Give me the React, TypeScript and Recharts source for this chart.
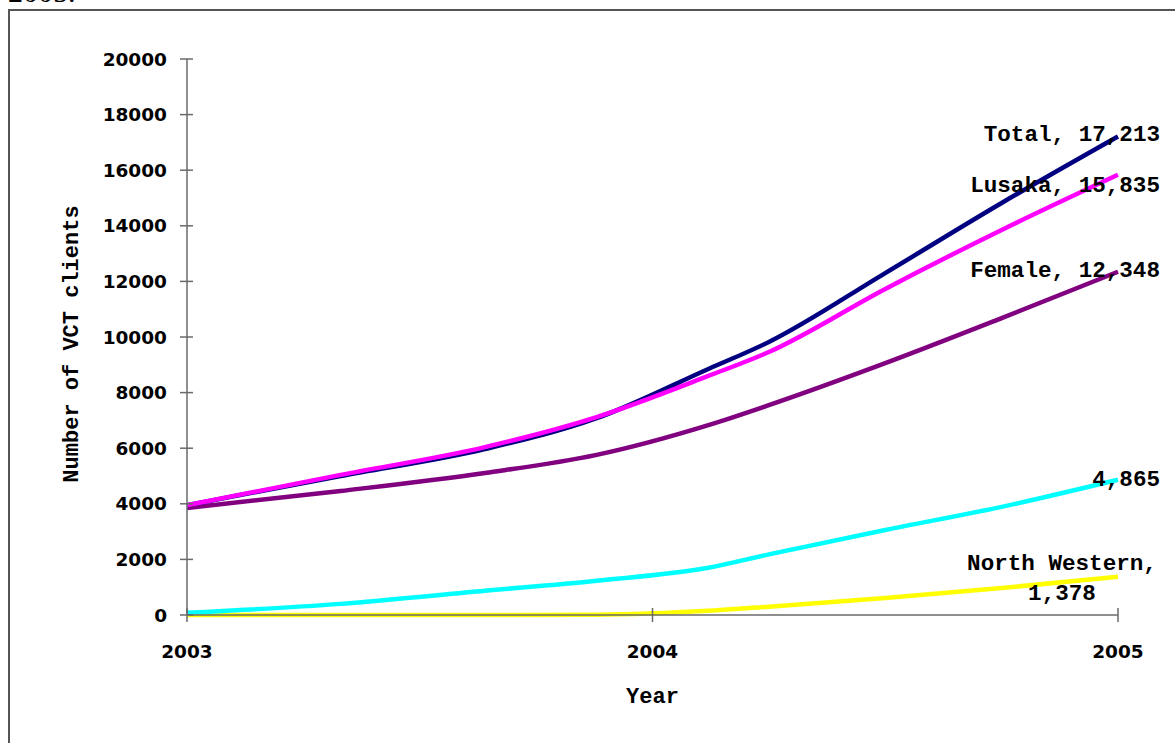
import React from "react";
import { LineChart, Line, XAxis, YAxis, Label, LabelList } from "recharts";

// ---- data ----
const years = [2003, 2003.33, 2003.64, 2003.88, 2004.12, 2004.25, 2004.5, 2004.75, 2005];
const totalValues = [3950, 5000, 5970, 7080, 8850, 9820, 12300, 14820, 17213];
const lusakaValues = [3950, 5040, 6040, 7120, 8600, 9460, 11730, 13850, 15835];
const femaleValues = [3850, 4460, 5110, 5760, 6830, 7550, 9060, 10680, 12348];
const otherValues = [80, 400, 870, 1235, 1700, 2180, 3060, 3890, 4865];
const northWesternValues = [0, 0, 0, 10, 150, 300, 610, 970, 1378];

const xTicks = [2003, 2004, 2005];
const yTicks = [0, 2000, 4000, 6000, 8000, 10000, 12000, 14000, 16000, 18000, 20000];

const seriesNames = {
  total: "Total",
  lusaka: "Lusaka",
  female: "Female",
  other: "",
  northWestern: "North Western",
};

const data = years.map((yr, i) => ({
  year: yr,
  total: totalValues[i],
  lusaka: lusakaValues[i],
  female: femaleValues[i],
  other: otherValues[i],
  northWestern: northWesternValues[i],
}));

const LAST = years.length - 1;
const MONO = "'Liberation Mono', 'Courier New', monospace";
const SANS = "'DejaVu Sans', Verdana, sans-serif";
const AXIS = "#6a6a6a";
const LW = 4.5;

const fmt = (v: number) => v.toLocaleString("en-US");

const YTick = (props: any) => {
  const { x, y, payload } = props;
  return (
    <g>
      <line x1={x + 13} x2={x + 26} y1={y} y2={y} stroke={AXIS} strokeWidth={1.5} />
      <text x={x} y={y} dy={6.5} textAnchor="end" fontFamily={SANS} fontWeight="bold" fontSize={18.5} fill="#000">
        {payload.value}
      </text>
    </g>
  );
};

const XTick = (props: any) => {
  const { x, y, payload } = props;
  return (
    <g>
      <line x1={x} x2={x} y1={y - 37} y2={y - 23} stroke={AXIS} strokeWidth={1.5} />
      <text x={x} y={y} dy={13} textAnchor="middle" fontFamily={SANS} fontWeight="bold" fontSize={18.5} fill="#000">
        {payload.value}
      </text>
    </g>
  );
};

const YLabel = (props: any) => {
  const vb = props.viewBox || { x: 0, y: 0, width: 0, height: 0 };
  const x = vb.x + 78;
  const y = vb.y + vb.height / 2 + 7;
  return (
    <text x={x} y={y} transform={`rotate(-90, ${x}, ${y})`} textAnchor="middle" fontFamily={MONO} fontWeight="bold" fontSize={22} fill="#000">
      Number of VCT clients
    </text>
  );
};

const XLabel = (props: any) => {
  const vb = props.viewBox || { x: 0, y: 0, width: 0, height: 0 };
  return (
    <text x={vb.x + vb.width / 2} y={vb.y + 88} textAnchor="middle" fontFamily={MONO} fontWeight="bold" fontSize={22} fill="#000">
      Year
    </text>
  );
};

const endLabel = (name: string, dx: number, dy: number) => (props: any) => {
  const { x, y, value, index } = props;
  if (index !== LAST) return null;
  const txt = name ? `${name}, ${fmt(value)}` : fmt(value);
  return (
    <text x={x + dx} y={y + dy} textAnchor="end" fontFamily={MONO} fontWeight="bold" fontSize={22.6} fill="#000">
      {txt}
    </text>
  );
};

const nwLabel = (props: any) => {
  const { x, y, value, index } = props;
  if (index !== LAST) return null;
  return (
    <text textAnchor="middle" fontFamily={MONO} fontWeight="bold" fontSize={22.6} fill="#000">
      <tspan x={x - 56} y={y - 7}>{`${seriesNames.northWestern},`}</tspan>
      <tspan x={x - 56} y={y + 23}>{fmt(value)}</tspan>
    </text>
  );
};

export default function App() {
  return (
    <div style={{ position: "relative", width: 1175, height: 743, overflow: "hidden", background: "#fff" }}>
      <style>{`html,body{margin:0;padding:0;overflow:hidden;background:#fff}`}</style>
      <div
        style={{
          position: "absolute",
          left: 8,
          top: -25,
          fontFamily: "'Liberation Serif', 'Times New Roman', serif",
          fontSize: 30,
          lineHeight: "34px",
          color: "#000",
        }}
      >
        2005.
      </div>
      <div
        style={{
          position: "absolute",
          left: 8,
          top: 9,
          width: 1200,
          height: 800,
          border: "2px solid #555",
          boxSizing: "border-box",
        }}
      />
      <div style={{ position: "absolute", left: 0, top: 0 }}>
        <LineChart width={1175} height={743} data={data} margin={{ top: 59, right: 57, bottom: 28, left: 0 }}>
          <XAxis
            dataKey="year"
            type="number"
            domain={[2003, 2005]}
            ticks={xTicks}
            height={100}
            tickSize={7}
            tickMargin={23}
            tickLine={false}
            axisLine={{ stroke: AXIS, strokeWidth: 1.5 }}
            tick={<XTick />}
            interval={0}
          >
            <Label content={<XLabel />} />
          </XAxis>
          <YAxis
            type="number"
            domain={[0, 20000]}
            ticks={yTicks}
            width={187}
            tickSize={7}
            tickMargin={13}
            tickLine={false}
            axisLine={{ stroke: AXIS, strokeWidth: 1.5 }}
            tick={<YTick />}
            interval={0}
          >
            <Label content={<YLabel />} />
          </YAxis>
          <Line dataKey="northWestern" type="monotone" stroke="#FFFF00" strokeWidth={LW} dot={false} isAnimationActive={false}>
            <LabelList dataKey="northWestern" content={nwLabel} />
          </Line>
          <Line dataKey="other" type="monotone" stroke="#00FFFF" strokeWidth={LW} dot={false} isAnimationActive={false}>
            <LabelList dataKey="other" content={endLabel(seriesNames.other, 42, 6)} />
          </Line>
          <Line dataKey="female" type="monotone" stroke="#800080" strokeWidth={LW} dot={false} isAnimationActive={false}>
            <LabelList dataKey="female" content={endLabel(seriesNames.female, 42, 5)} />
          </Line>
          <Line dataKey="total" type="monotone" stroke="#000080" strokeWidth={LW} dot={false} isAnimationActive={false}>
            <LabelList dataKey="total" content={endLabel(seriesNames.total, 42, 5)} />
          </Line>
          <Line dataKey="lusaka" type="monotone" stroke="#FF00FF" strokeWidth={LW} dot={false} isAnimationActive={false}>
            <LabelList dataKey="lusaka" content={endLabel(seriesNames.lusaka, 42, 17.5)} />
          </Line>
        </LineChart>
      </div>
    </div>
  );
}
